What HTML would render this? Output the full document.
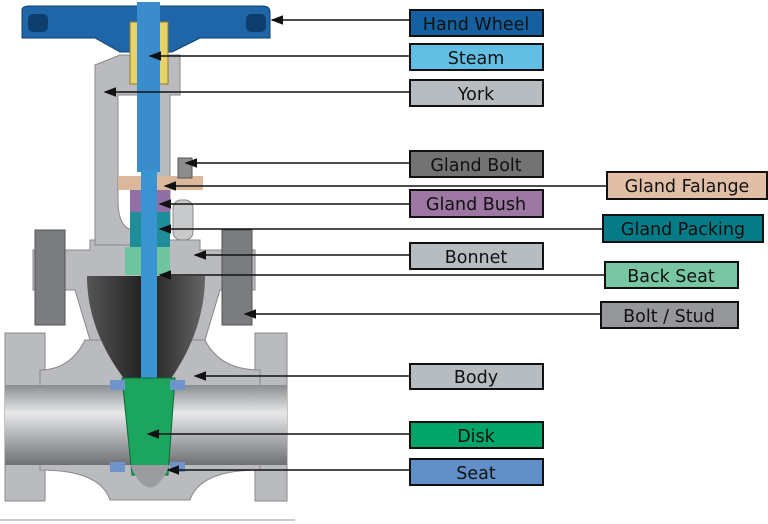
<!DOCTYPE html>
<html><head><meta charset="utf-8"><style>
html,body{margin:0;padding:0;background:#fff;width:768px;height:524px;overflow:hidden}
svg{display:block}
text{font-family:"DejaVu Sans","Liberation Sans",sans-serif;font-size:17.5px;fill:#111;text-anchor:middle}
</style></head><body>
<svg width="768" height="524" viewBox="0 0 768 524" xmlns="http://www.w3.org/2000/svg">
<defs>
<linearGradient id="pipe" x1="0" y1="0" x2="0" y2="1">
<stop offset="0" stop-color="#8a8c8f"/><stop offset="0.35" stop-color="#e8e9ea"/><stop offset="0.7" stop-color="#a5a7aa"/><stop offset="1" stop-color="#6e7073"/></linearGradient>
<linearGradient id="dome" x1="0" y1="0" x2="1" y2="0">
<stop offset="0" stop-color="#555"/><stop offset="0.5" stop-color="#1f1f1f"/><stop offset="1" stop-color="#666"/></linearGradient>
<marker id="ah" markerWidth="8" markerHeight="8" refX="7" refY="4" orient="auto"><path d="M0,1 L8,4 L0,7 z" fill="#111"/></marker>
</defs>
<rect x="5" y="333" width="40" height="168" fill="#b9bbbe" stroke="#888"/>
<rect x="255" y="333" width="32" height="168" fill="#b9bbbe" stroke="#888"/>
<path d="M40,370 Q70,370 85,340 L205,340 Q220,370 260,370 L260,470 Q200,470 190,500 L110,500 Q100,470 40,470 Z" fill="#b9bbbe" stroke="#888"/>
<rect x="5" y="385" width="282" height="80" fill="url(#pipe)"/>
<path d="M90,240 L200,240 L200,250 L255,250 L255,290 L220,290 L205,340 L90,340 L75,290 L33,290 L33,250 L90,250 Z" fill="#b9bbbe" stroke="#888"/>
<path d="M87,276 L205,276 Q205,330 170,380 L125,380 Q87,330 87,276 Z" fill="url(#dome)"/>
<path d="M95,65 L120,55 L180,55 L180,95 L170,95 L170,230 L150,230 L150,95 L118,95 L118,200 Q118,230 135,230 L135,245 L95,245 Z" fill="#b9bbbe" stroke="#888"/>
<rect x="173" y="200" width="20" height="40" rx="8" fill="#c8c9cb" stroke="#888"/>
<rect x="35" y="230" width="30" height="95" fill="#7a7c7f" stroke="#555"/>
<rect x="222" y="230" width="30" height="95" fill="#7a7c7f" stroke="#555"/>
<path d="M22,10 Q22,6 30,6 L262,6 Q270,6 270,12 L270,38 L200,38 L172,52 L120,52 L95,38 L22,38 Z" fill="#1f66a8" stroke="#0e3e6e"/>
<rect x="28" y="14" width="20" height="18" rx="5" fill="#0e3e6e"/>
<rect x="246" y="14" width="20" height="18" rx="5" fill="#0e3e6e"/>
<rect x="130" y="22" width="38" height="62" fill="#e8d26a" stroke="#8a7a30"/>
<rect x="118" y="176" width="85" height="14" fill="#dbb89c"/>
<rect x="130" y="190" width="40" height="22" fill="#8f6fa6"/>
<rect x="130" y="212" width="40" height="35" fill="#1e8f9a"/>
<rect x="125" y="247" width="45" height="28" fill="#6fc4a0"/>
<rect x="178" y="158" width="14" height="20" fill="#8c8c8c" stroke="#555"/>
<rect x="137" y="2" width="23" height="170" fill="#3b8ccc"/>
<rect x="141" y="170" width="16" height="215" fill="#3b94d2"/>
<path d="M122,378 L175,378 L168,475 L132,475 Z" fill="#1ca55e" stroke="#0c6a3a"/>
<path d="M130,465 Q150,510 170,465 Z" fill="#9a9c9f"/>
<rect x="110" y="380" width="15" height="10" fill="#6f94c9"/>
<rect x="170" y="380" width="15" height="10" fill="#6f94c9"/>
<rect x="110" y="462" width="15" height="10" fill="#6f94c9"/>
<rect x="170" y="462" width="15" height="10" fill="#6f94c9"/>
<line x1="0" y1="520" x2="295" y2="520" stroke="#999" stroke-width="1"/>
<g stroke="#111" stroke-width="1.6" marker-end="url(#ah)">
<line x1="410" y1="20" x2="272" y2="20"/>
<line x1="410" y1="56" x2="150" y2="56"/>
<line x1="410" y1="92" x2="105" y2="92"/>
<line x1="410" y1="163" x2="186" y2="163"/>
<line x1="606" y1="186" x2="165" y2="186"/>
<line x1="410" y1="204" x2="160" y2="204"/>
<line x1="602" y1="229" x2="160" y2="229"/>
<line x1="410" y1="255" x2="195" y2="255"/>
<line x1="605" y1="275" x2="160" y2="275"/>
<line x1="601" y1="314" x2="245" y2="314"/>
<line x1="410" y1="376" x2="195" y2="376"/>
<line x1="410" y1="434" x2="148" y2="434"/>
<line x1="410" y1="470" x2="168" y2="470"/>
</g>
<g stroke="#111" stroke-width="2">
<rect x="410" y="10" width="133" height="26" fill="#1460a0"/>
<rect x="410" y="44" width="133" height="26" fill="#62bfe3"/>
<rect x="410" y="80" width="133" height="26" fill="#b6bcbf"/>
<rect x="410" y="151" width="133" height="26" fill="#737373"/>
<rect x="607" y="172" width="160" height="27" fill="#e1bea6"/>
<rect x="410" y="190" width="133" height="27" fill="#9c78a2"/>
<rect x="603" y="215" width="160" height="27" fill="#047b86"/>
<rect x="410" y="243" width="133" height="26" fill="#b6bcbf"/>
<rect x="605" y="262" width="133" height="26" fill="#79c6a4"/>
<rect x="601" y="302" width="137" height="26" fill="#95979a"/>
<rect x="410" y="364" width="133" height="25" fill="#b6bcbf"/>
<rect x="410" y="422" width="133" height="26" fill="#00a56a"/>
<rect x="410" y="459" width="133" height="26" fill="#6190c9"/>
</g>
<text x="476" y="30">Hand Wheel</text>
<text x="476" y="64">Steam</text>
<text x="476" y="100">York</text>
<text x="476" y="171">Gland Bolt</text>
<text x="687" y="192">Gland Falange</text>
<text x="476" y="210">Gland Bush</text>
<text x="683" y="235">Gland Packing</text>
<text x="476" y="263">Bonnet</text>
<text x="671" y="282">Back Seat</text>
<text x="669" y="322">Bolt / Stud</text>
<text x="476" y="383">Body</text>
<text x="476" y="442">Disk</text>
<text x="476" y="479">Seat</text>
</svg>
</body></html>
